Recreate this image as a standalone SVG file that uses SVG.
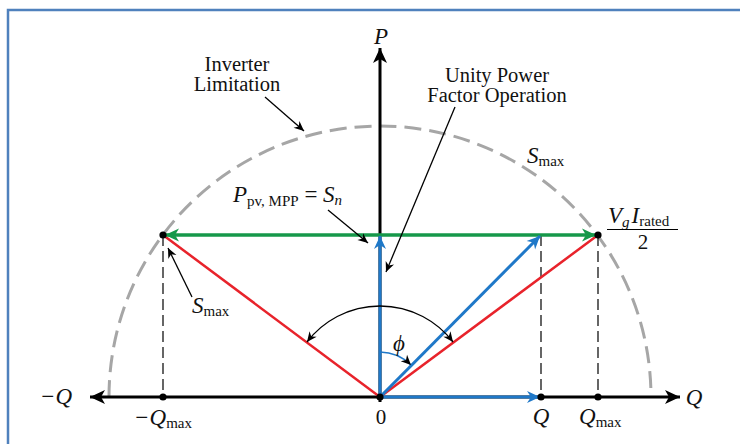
<svg xmlns="http://www.w3.org/2000/svg" width="740" height="444" viewBox="0 0 740 444">
<defs>
<style>
.t{font-family:"Liberation Serif","Times New Roman",serif;fill:#111;font-size:20.5px}
.m{font-family:"Liberation Serif","Times New Roman",serif;font-style:italic;fill:#111;font-size:23px}
.r{font-family:"Liberation Serif","Times New Roman",serif;fill:#111}
.sub{font-size:15px;font-style:normal}
.subi{font-size:15px;font-style:italic}
.axis{stroke:#000;stroke-width:3;fill:none}
.thin{stroke:#000;stroke-width:1.3;fill:none}
.dash{stroke:#000;stroke-width:1.2;stroke-dasharray:11 5;fill:none}
.blue{stroke:#1f78c8;stroke-width:3;fill:none}
.red{stroke:#e8232b;stroke-width:2.5;fill:none}
.green{stroke:#16984a;stroke-width:3.5;fill:none}
</style>
<marker id="ak" markerUnits="userSpaceOnUse" viewBox="-16 -8 18 16" refX="0" refY="0" markerWidth="18" markerHeight="16" orient="auto-start-reverse"><path d="M0,0 L-15,-7 L-11,0 L-15,7 z" fill="#000"/></marker>
<marker id="as" markerUnits="userSpaceOnUse" viewBox="-12 -6 14 12" refX="0" refY="0" markerWidth="14" markerHeight="12" orient="auto-start-reverse"><path d="M0,0 L-10,-4.5 L-7,0 L-10,4.5 z" fill="#000"/></marker>
<marker id="ab" markerUnits="userSpaceOnUse" viewBox="-14 -7 16 14" refX="0" refY="0" markerWidth="16" markerHeight="14" orient="auto"><path d="M0,0 L-13,-6 L-9,0 L-13,6 z" fill="#1f78c8"/></marker>
<marker id="ag" markerUnits="userSpaceOnUse" viewBox="-16 -8 18 16" refX="0" refY="0" markerWidth="18" markerHeight="16" orient="auto-start-reverse"><path d="M0,0 L-14,-6.5 L-10,0 L-14,6.5 z" fill="#16984a"/></marker>
</defs>
<rect width="740" height="444" fill="#fff"/>
<path d="M8,444 V10 H740" fill="none" stroke="#4f81bd" stroke-width="2.5"/>

<g id="limit-circle">
<path d="M109,397 A271,271 0 0 1 651,397" fill="none" stroke="#a6a6a6" stroke-width="3" stroke-dasharray="17 8"/>
</g>

<g id="connectors">
<line class="dash" x1="163" y1="235" x2="163" y2="397"/>
<line class="dash" x1="541" y1="235" x2="541" y2="397"/>
<line class="dash" x1="598" y1="235" x2="598" y2="397"/>
<line class="axis" x1="90" y1="397" x2="680" y2="397" marker-start="url(#ak)" marker-end="url(#ak)"/>
<line class="axis" x1="380" y1="402" x2="380" y2="48" marker-end="url(#ak)"/>
<line class="red" x1="380" y1="397" x2="163" y2="235"/>
<line class="red" x1="380" y1="397" x2="598" y2="235"/>
<line class="green" x1="165" y1="235" x2="596" y2="235" marker-start="url(#ag)" marker-end="url(#ag)"/>
<line class="blue" x1="380" y1="397" x2="380" y2="236" marker-end="url(#ab)"/>
<line class="blue" x1="380" y1="397" x2="540" y2="236" marker-end="url(#ab)"/>
<line class="blue" x1="380" y1="397" x2="540" y2="397" marker-end="url(#ab)"/>
<path class="thin" d="M307,342 A92,92 0 0 1 453,342" marker-start="url(#as)" marker-end="url(#as)"/>
<path d="M380,352 A45,45 0 0 1 411,365" fill="none" stroke="#1f78c8" stroke-width="1.6" marker-end="url(#as)"/>
<line class="thin" x1="265" y1="97" x2="304" y2="131" marker-end="url(#as)"/>
<line class="thin" x1="455" y1="107" x2="386" y2="272" marker-end="url(#as)"/>
<line class="thin" x1="328" y1="210" x2="368" y2="243" marker-end="url(#as)"/>
<line class="thin" x1="192" y1="297" x2="168" y2="248" marker-end="url(#as)"/>
</g>

<g id="points" fill="#000">
<circle cx="163" cy="235" r="3.6"/>
<circle cx="598" cy="235" r="3.6"/>
<circle cx="163" cy="397" r="3.6"/>
<circle cx="380" cy="397" r="3.6"/>
<circle cx="541" cy="397" r="3.6"/>
<circle cx="598" cy="397" r="3.6"/>
</g>

<g id="labels">
<text class="m" x="381" y="44" text-anchor="middle">P</text>
<text class="m" x="56" y="404" text-anchor="middle">−Q</text>
<text class="m" x="694" y="405" text-anchor="middle">Q</text>
<text class="m" x="134" y="425">−Q<tspan class="sub" dy="3">max</tspan></text>
<text class="r" x="381" y="424" font-size="21" text-anchor="middle">0</text>
<text class="m" x="541" y="424" text-anchor="middle">Q</text>
<text class="m" x="579" y="424">Q<tspan class="sub" dy="3">max</tspan></text>
<text class="t" x="237" y="71" text-anchor="middle">Inverter</text>
<text class="t" x="237" y="91" text-anchor="middle">Limitation</text>
<text class="t" x="497" y="82" text-anchor="middle">Unity Power</text>
<text class="t" x="497" y="102" text-anchor="middle">Factor Operation</text>
<text class="m" x="527" y="163">S<tspan class="sub" dy="3">max</tspan></text>
<text class="m" x="192" y="313">S<tspan class="sub" dy="3">max</tspan></text>
<text class="m" x="233" y="202">P<tspan class="sub" dy="4">pv, </tspan><tspan class="sub" font-size="12.5" dy="0">MPP</tspan><tspan dy="-4" font-style="normal"> = </tspan>S<tspan class="subi" dy="3">n</tspan></text>
<text class="m" x="608" y="223">V<tspan class="subi" dy="4">g</tspan><tspan dx="2" dy="-4">I</tspan><tspan class="sub" dy="3">rated</tspan></text>
<line x1="607" y1="229.5" x2="678" y2="229.5" stroke="#000" stroke-width="1.2"/>
<text class="r" x="643" y="249" font-size="21" text-anchor="middle">2</text>
<text class="m" x="399" y="351" text-anchor="middle">ϕ</text>
</g>
</svg>
